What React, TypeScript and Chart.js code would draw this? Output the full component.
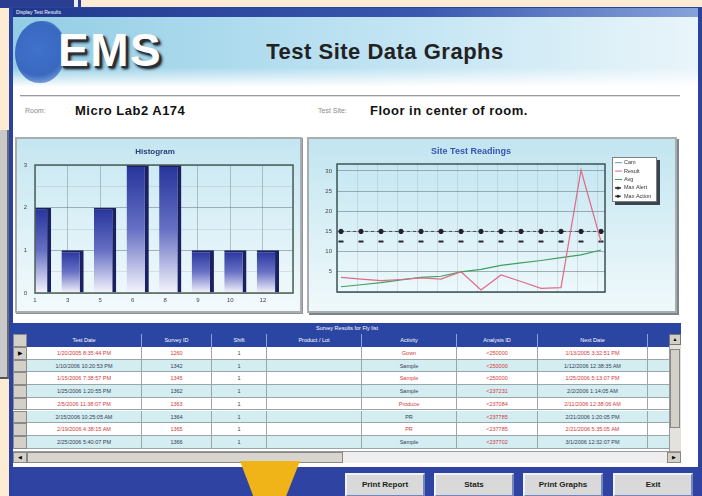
import React, { useEffect, useRef } from "react";
import { Chart, registerables } from "chart.js";

Chart.register(...registerables);

// ---------- chart data ----------
const histLabels = ["1", "3", "5", "6", "8", "9", "10", "12"];
const histCounts = [2, 1, 2, 3, 3, 1, 1, 1];

const readingDates = [
  "2/14/2005", "3/14/2005", "4/11/2005", "5/9/2005", "6/6/2005", "7/5/2005", "8/2/2005",
  "8/30/2005", "9/27/2005", "10/25/2005", "11/22/2005", "12/20/2005", "1/17/2006", "2/14/2006",
];
const camReadings: number[] = [];
const resultReadings = [3.6, 3.2, 2.8, 3.1, 3.5, 3.2, 5.0, 0.5, 4.2, 2.6, 0.9, 1.1, 30.2, 12.5];
const avgReadings = [1.3, 1.8, 2.3, 3.0, 3.6, 3.9, 5.0, 5.6, 6.6, 7.2, 7.8, 8.5, 9.2, 10.4];
const maxAlertLevels = [12.5, 12.5, 12.5, 12.5, 12.5, 12.5, 12.5, 12.5, 12.5, 12.5, 12.5, 12.5, 12.5, 12.5];
const maxActionLevels = [15, 15, 15, 15, 15, 15, 15, 15, 15, 15, 15, 15, 15, 15];

// ---------- table text ----------
const tableTitle = "Survey Results for Fly list";
const tableCols = ["Test Date", "Survey ID", "Shift", "Product / Lot", "Activity", "Analysis ID", "Next Date"];
const testDates = [
  "1/20/2005 8:35:44 PM", "1/10/2006 10:20:53 PM", "1/15/2006 7:38:57 PM", "1/25/2006 1:20:55 PM",
  "2/5/2006 11:38:07 PM", "2/15/2006 10:25:05 AM", "2/19/2006 4:38:15 AM", "2/25/2006 5:40:07 PM",
];
const surveyIds = ["1260", "1342", "1345", "1362", "1363", "1364", "1365", "1366"];
const shifts = ["1", "1", "1", "1", "1", "1", "1", "1"];
const productLots = ["", "", "", "", "", "", "", ""];
const activities = ["Gown", "Sample", "Sample", "Sample", "Produce", "PR", "PR", "Sample"];
const analysisIds = ["<250000", "<250000", "<250000", "<237231", "<237084", "<237785", "<237785", "<237702"];
const nextDates = [
  "1/13/2005 3:32:51 PM", "1/12/2006 12:38:35 AM", "1/25/2006 5:13:07 PM", "2/2/2006 1:14:05 AM",
  "2/11/2006 12:38:06 AM", "2/21/2006 1:20:05 PM", "2/21/2006 5:35:05 AM", "3/1/2006 12:32:07 PM",
];
const buttonLabels = ["Print Report", "Stats", "Print Graphs", "Exit"];

const FONT = '"Liberation Sans", Arial, sans-serif';

function makePlotBg(top: string, bottom: string, border: string) {
  return {
    id: "plotBg",
    beforeDraw(chart: any) {
      const { ctx, chartArea: a } = chart;
      if (!a) return;
      const g = ctx.createLinearGradient(0, a.top, 0, a.bottom);
      g.addColorStop(0, top);
      g.addColorStop(1, bottom);
      ctx.save();
      ctx.fillStyle = g;
      ctx.fillRect(a.left, a.top, a.right - a.left, a.bottom - a.top);
      ctx.restore();
    },
    afterDatasetsDraw(chart: any) {
      const { ctx, chartArea: a } = chart;
      ctx.save();
      ctx.strokeStyle = border;
      ctx.lineWidth = 1.5;
      ctx.strokeRect(a.left, a.top, a.right - a.left, a.bottom - a.top);
      ctx.restore();
    },
  };
}

const boxLegend = {
  id: "boxLegend",
  afterDraw(chart: any) {
    const { ctx, chartArea } = chart;
    const dss = chart.data.datasets;
    const x0 = chartArea.right + 7;
    const y0 = chartArea.top - 7;
    const rowH = 8.4;
    const w = 45;
    const h = dss.length * rowH + 3;
    ctx.save();
    ctx.fillStyle = "#3a4350";
    ctx.fillRect(x0 + 3, y0 + 3, w, h);
    ctx.fillStyle = "#ffffff";
    ctx.fillRect(x0, y0, w, h);
    ctx.strokeStyle = "#808080";
    ctx.lineWidth = 1;
    ctx.strokeRect(x0 + 0.5, y0 + 0.5, w - 1, h - 1);
    ctx.font = `5.5px ${FONT}`;
    ctx.textBaseline = "middle";
    dss.forEach((ds: any, i: number) => {
      const cy = y0 + 1.5 + rowH * i + rowH / 2;
      ctx.strokeStyle = ds.borderColor;
      ctx.fillStyle = ds.pointBackgroundColor || ds.borderColor;
      if (ds.showLine === false || ds.pointRadius > 0) {
        ctx.lineWidth = 1.5;
        ctx.beginPath();
        ctx.moveTo(x0 + 3, cy);
        ctx.lineTo(x0 + 9, cy);
        ctx.stroke();
        ctx.beginPath();
        ctx.arc(x0 + 6, cy, 1.5, 0, Math.PI * 2);
        ctx.fill();
      } else {
        ctx.lineWidth = 1;
        ctx.beginPath();
        ctx.moveTo(x0 + 3, cy);
        ctx.lineTo(x0 + 10, cy);
        ctx.stroke();
      }
      ctx.fillStyle = "#333";
      ctx.fillText(ds.label, x0 + 12, cy);
    });
    ctx.restore();
  },
};

function Histogram() {
  const ref = useRef<HTMLCanvasElement | null>(null);
  useEffect(() => {
    if (!ref.current) return;
    const chart = new Chart(ref.current, {
      type: "bar",
      data: {
        datasets: [
          {
            label: "Count",
            data: histCounts.map((v, i) => ({ x: i, y: v })),
            backgroundColor: (c: any) => {
              const ch = c.chart;
              if (!ch.chartArea || c.type !== "data" || !c.parsed) return "#4a56b0";
              const ys = ch.scales.y;
              const top = ys.getPixelForValue(c.parsed.y);
              const bottom = ys.getPixelForValue(0);
              const g = ch.ctx.createLinearGradient(0, top, 0, bottom);
              g.addColorStop(0, "#26339a");
              g.addColorStop(0.5, "#6670c4");
              g.addColorStop(1, "#f6f4fc");
              return g;
            },
            borderColor: "#1a2060",
            borderWidth: { top: 2, right: 4, bottom: 0, left: 0 },
            borderSkipped: false,
            barPercentage: 0.74,
            categoryPercentage: 1,
          },
        ],
      },
      options: {
        animation: false,
        responsive: false,
        devicePixelRatio: 1,
        layout: { padding: { left: 0, right: 7, top: 0, bottom: 0 } },
        plugins: {
          legend: { display: false },
          tooltip: { enabled: false },
          title: {
            display: true,
            text: "Histogram",
            color: "#2c3c78",
            font: { family: FONT, size: 8, lineHeight: 1.25 },
            padding: { top: 8, bottom: 8 },
          },
        },
        scales: {
          x: {
            type: "linear",
            bounds: "data",
            offset: false,
            min: -0.154,
            max: 7.77,
            afterFit: (s: any) => { s.height = 18; },
            ticks: {
              stepSize: 1,
              includeBounds: false,
              autoSkip: false,
              maxRotation: 0,
              padding: 4,
              color: "#444",
              font: { family: FONT, size: 6 },
              callback: (v: any) => histLabels[Math.round(v)] ?? "",
            },
            grid: { offset: false, color: "rgba(110,135,135,0.45)", drawTicks: false },
            border: { display: false },
          },
          y: {
            type: "linear",
            bounds: "data",
            min: 0,
            max: 3,
            afterFit: (s: any) => { s.width = 18; },
            ticks: {
              stepSize: 0.5,
              includeBounds: false,
              padding: 8,
              color: "#444",
              font: { family: FONT, size: 6 },
              callback: (v: any) => (Number.isInteger(v) ? String(v) : ""),
            },
            grid: {
              drawTicks: false,
              color: (c: any) => (Number.isInteger(c.tick?.value) ? "rgba(100,125,125,0.55)" : "rgba(140,160,160,0.25)"),
            },
            border: { display: false },
          },
        },
      } as any,
      plugins: [makePlotBg("#cdeaf4", "#eef8fb", "#4d6258")],
    });
    return () => chart.destroy();
  }, []);
  return <canvas ref={ref} width={283} height={172} style={{ display: "block" }} />;
}

function Readings() {
  const ref = useRef<HTMLCanvasElement | null>(null);
  useEffect(() => {
    if (!ref.current) return;
    const pts = (arr: number[]) => arr.map((v, i) => ({ x: i, y: v }));
    const chart = new Chart(ref.current, {
      type: "line",
      data: {
        datasets: [
          { label: "Cam", data: pts(camReadings), borderColor: "#7090c0", borderWidth: 1, pointRadius: 0 },
          { label: "Result", data: pts(resultReadings), borderColor: "#e06a88", borderWidth: 1.2, pointRadius: 0, tension: 0 },
          { label: "Avg", data: pts(avgReadings), borderColor: "#3f9f60", borderWidth: 1.2, pointRadius: 0, tension: 0 },
          {
            label: "Max Alert",
            data: pts(maxAlertLevels),
            borderColor: "#2a2a34",
            pointBackgroundColor: "#2a2a34",
            showLine: false,
            pointStyle: "line",
            pointRadius: 2.5,
            pointBorderWidth: 2,
          },
          {
            label: "Max Action",
            data: pts(maxActionLevels),
            borderColor: "#4a4a55",
            pointBackgroundColor: "#22222c",
            pointBorderColor: "#22222c",
            borderWidth: 1,
            borderDash: [3, 3],
            pointStyle: "circle",
            pointRadius: 2.2,
          },
        ],
      },
      options: {
        animation: false,
        responsive: false,
        devicePixelRatio: 1,
        layout: { padding: { left: 0, right: 70, top: 0, bottom: 0 } },
        plugins: {
          legend: { display: false },
          tooltip: { enabled: false },
          title: {
            display: true,
            fullSize: false,
            text: "Site Test Readings",
            color: "#3456b4",
            font: { family: FONT, size: 9, lineHeight: 1.2 },
            padding: { top: 7, bottom: 7.2 },
          },
        },
        scales: {
          x: {
            type: "linear",
            bounds: "data",
            min: -0.2,
            max: 13.2,
            afterFit: (s: any) => { s.height = 19; },
            ticks: {
              stepSize: 1,
              includeBounds: false,
              autoSkip: false,
              maxRotation: 0,
              padding: 5,
              color: "#444",
              font: { family: FONT, size: 5.5 },
              callback: (v: any) => (v % 2 === 0 ? readingDates[v] ?? "" : ""),
            },
            grid: {
              drawTicks: false,
              color: (c: any) => (c.tick?.value % 2 === 0 ? "rgba(95,120,125,0.55)" : "rgba(140,160,165,0.25)"),
            },
            border: { display: false },
          },
          y: {
            type: "linear",
            bounds: "data",
            min: 0,
            max: 31.7,
            afterFit: (s: any) => { s.width = 28; },
            ticks: {
              stepSize: 2.5,
              includeBounds: false,
              padding: 5,
              color: "#444",
              font: { family: FONT, size: 6 },
              callback: (v: any) => (v % 5 === 0 && v > 0 ? String(v) : ""),
            },
            grid: {
              drawTicks: false,
              color: (c: any) => (c.tick?.value % 5 === 0 ? "rgba(95,120,125,0.55)" : "rgba(140,160,165,0.25)"),
            },
            border: { display: false },
          },
        },
      } as any,
      plugins: [makePlotBg("#c6e7f2", "#edf8fb", "#3d5555"), boxLegend],
    });
    return () => chart.destroy();
  }, []);
  return <canvas ref={ref} width={366} height={172} style={{ display: "block" }} />;
}

const abs = (l: number, t: number, w: number, h: number, extra: React.CSSProperties = {}): React.CSSProperties => ({
  position: "absolute",
  left: l,
  top: t,
  width: w,
  height: h,
  boxSizing: "border-box",
  ...extra,
});

export default function App() {
  const colEdges = [27, 142, 212, 267, 362, 457, 538, 648, 668];
  const rowTop = 347;
  const rowH = 12.7;
  const columns = [testDates, surveyIds, shifts, productLots, activities, analysisIds, nextDates];
  const red = "#d23a3a";
  const dark = "#333c55";
  const buttons = [
    { l: 345, w: 80 },
    { l: 434, w: 80 },
    { l: 523, w: 80 },
    { l: 613, w: 80 },
  ];

  return (
    <div style={{ position: "absolute", left: 0, top: 0, width: 702, height: 496, overflow: "hidden", background: "#fdebd3", fontFamily: FONT }}>
      {/* background desktop bits */}
      <div style={abs(0, 0, 74, 8, { background: "#2b3d90" })} />
      <div style={abs(74, 0, 4, 8, { background: "#e8eef8" })} />
      <div style={abs(78, 0, 3, 8, { background: "#2b3d90" })} />
      <div style={abs(0, 130, 9, 249, { background: "#c9c9c9", borderRight: "2px solid #6a6a70", borderBottom: "2px solid #555" })} />

      {/* main window frame */}
      <div style={abs(9, 7, 693, 489, { background: "#2a43a0" })} />
      <div style={abs(13, 8, 685, 9, { background: "linear-gradient(90deg,#1f388c,#3a58b0 60%,#86a2da)", color: "#fff", fontSize: 5, lineHeight: "9px", paddingLeft: 3 })}>
        Display Test Results
      </div>
      <div style={abs(13, 17, 685, 450, { background: "#ffffff" })} />

      {/* banner */}
      <div style={abs(13, 17, 685, 70, { background: "linear-gradient(180deg, rgba(255,255,255,0) 72%, #ffffff 100%), linear-gradient(90deg,#93cde4 0%,#b4def0 40%,#e9f5fa 100%)" })} />
      <div style={abs(15, 21, 50, 62, { borderRadius: "55% 45% 50% 50%", background: "radial-gradient(circle at 45% 45%, #3f72cc, #3a68c0 60%, rgba(70,120,200,0.2) 100%)" })} />
      <div style={abs(58, 22, 120, 56, { color: "#fff", fontWeight: 700, fontSize: 46, lineHeight: "56px", letterSpacing: 1.5, textShadow: "2px 2px 0 #2a2f3a, 3px 3px 3px #000" })}>EMS</div>
      <div style={abs(185, 38, 400, 28, { textAlign: "center", fontWeight: 700, fontSize: 22, lineHeight: "28px", letterSpacing: 0.5, color: "#222" })}>Test Site Data Graphs</div>

      {/* room line */}
      <div style={abs(20, 95, 660, 2, { borderTop: "1px solid #9a9a9a", borderBottom: "1px solid #e0e0e0" })} />
      <div style={abs(25, 106, 40, 10, { fontSize: 7, color: "#8a8a8a", lineHeight: "10px" })}>Room:</div>
      <div style={abs(75, 103, 200, 16, { fontSize: 13, fontWeight: 700, letterSpacing: 0.5, color: "#111", lineHeight: "16px" })}>Micro Lab2 A174</div>
      <div style={abs(318, 106, 50, 10, { fontSize: 7, color: "#8a8a8a", lineHeight: "10px" })}>Test Site:</div>
      <div style={abs(370, 103, 280, 16, { fontSize: 13, fontWeight: 700, letterSpacing: 0.5, color: "#111", lineHeight: "16px" })}>Floor in center of room.</div>

      {/* chart panels */}
      <div style={abs(15, 137, 287, 176, { border: "2px solid #a9adb0", background: "linear-gradient(180deg,#c4e6f1,#f3fafc)", boxShadow: "1px 1px 0 #8d9398" })}>
        <Histogram />
      </div>
      <div style={abs(307, 137, 370, 176, { border: "2px solid #a9adb0", background: "linear-gradient(180deg,#c2e5f0,#f0f9fb)", boxShadow: "2px 2px 0 #7d858c" })}>
        <Readings />
      </div>

      {/* table */}
      <div style={abs(13, 323, 668, 11, { background: "#2b45a2", color: "#fff", fontSize: 5.5, lineHeight: "11px", textAlign: "center" })}>{tableTitle}</div>
      <div style={abs(13, 334, 668, 13, { background: "#2b45a2" })} />
      <div style={abs(13, 334, 14, 13, { background: "#d4d0c8", border: "1px solid #8a8a8a" })} />
      {tableCols.map((c, i) => (
        <div key={c} style={abs(colEdges[i], 334, colEdges[i + 1] - colEdges[i], 13, { color: "#fff", fontSize: 5.5, lineHeight: "13px", textAlign: "center", borderRight: "1px solid #8fa0d8" })}>{c}</div>
      ))}
      {testDates.map((_, r) => (
        <React.Fragment key={r}>
          <div style={abs(13, rowTop + r * rowH, 668 - 12, rowH, { background: r % 2 === 0 ? "#ffffff" : "#d3edf0", borderBottom: "1px solid #9aa6aa" })} />
          <div style={abs(13, rowTop + r * rowH, 14, rowH, { background: "#d4d0c8", border: "1px solid #8a8a8a", fontSize: 6, lineHeight: `${rowH - 2}px`, textAlign: "center", color: "#000" })}>{r === 0 ? "▶" : ""}</div>
          {columns.map((col, ci) => (
            <div key={ci} style={abs(colEdges[ci], rowTop + r * rowH, colEdges[ci + 1] - colEdges[ci], rowH, { fontSize: 5.5, lineHeight: `${rowH}px`, textAlign: "center", borderRight: "1px solid #9aa6aa", color: ci === 5 ? red : ci === 2 ? dark : r % 2 === 0 ? red : dark, whiteSpace: "nowrap", overflow: "hidden" })}>{col[r]}</div>
          ))}
        </React.Fragment>
      ))}
      {/* vertical scrollbar */}
      <div style={abs(669, 334, 12, 118, { background: "#e4e2dc", borderLeft: "1px solid #999" })} />
      <div style={abs(669, 334, 12, 11, { background: "#d4d0c8", border: "1px solid #777", fontSize: 5, textAlign: "center", lineHeight: "9px" })}>▲</div>
      <div style={abs(670, 349, 10, 79, { background: "#d4d0c8", border: "1px solid #888" })} />
      {/* horizontal scrollbar */}
      <div style={abs(13, 451, 668, 12, { background: "#efefef", borderTop: "1px solid #999" })} />
      <div style={abs(13, 452, 14, 11, { background: "#d4d0c8", border: "1px solid #888", fontSize: 5, textAlign: "center", lineHeight: "9px" })}>◀</div>
      <div style={abs(27, 452, 316, 11, { background: "#d8d5ce", border: "1px solid #888" })} />
      <div style={abs(667, 452, 14, 11, { background: "#d4d0c8", border: "1px solid #888", fontSize: 5, textAlign: "center", lineHeight: "9px" })}>▶</div>

      {/* bottom bar */}
      <div style={abs(13, 467, 689, 29, { background: "#2f43a2" })} />
      {buttons.map((b, i) => (
        <div key={i} style={abs(b.l, 473, b.w, 24, { background: "#d9d9d9", border: "2px solid", borderColor: "#eef2fa #7486c0 #7486c0 #eef2fa", fontSize: 8, fontWeight: 700, color: "#222", textAlign: "center", lineHeight: "20px" })}>{buttonLabels[i]}</div>
      ))}
      <div style={abs(240, 461, 60, 35, { background: "#f0b418", clipPath: "polygon(0 0, 100% 0, 77% 100%, 22% 100%)" })} />
    </div>
  );
}
